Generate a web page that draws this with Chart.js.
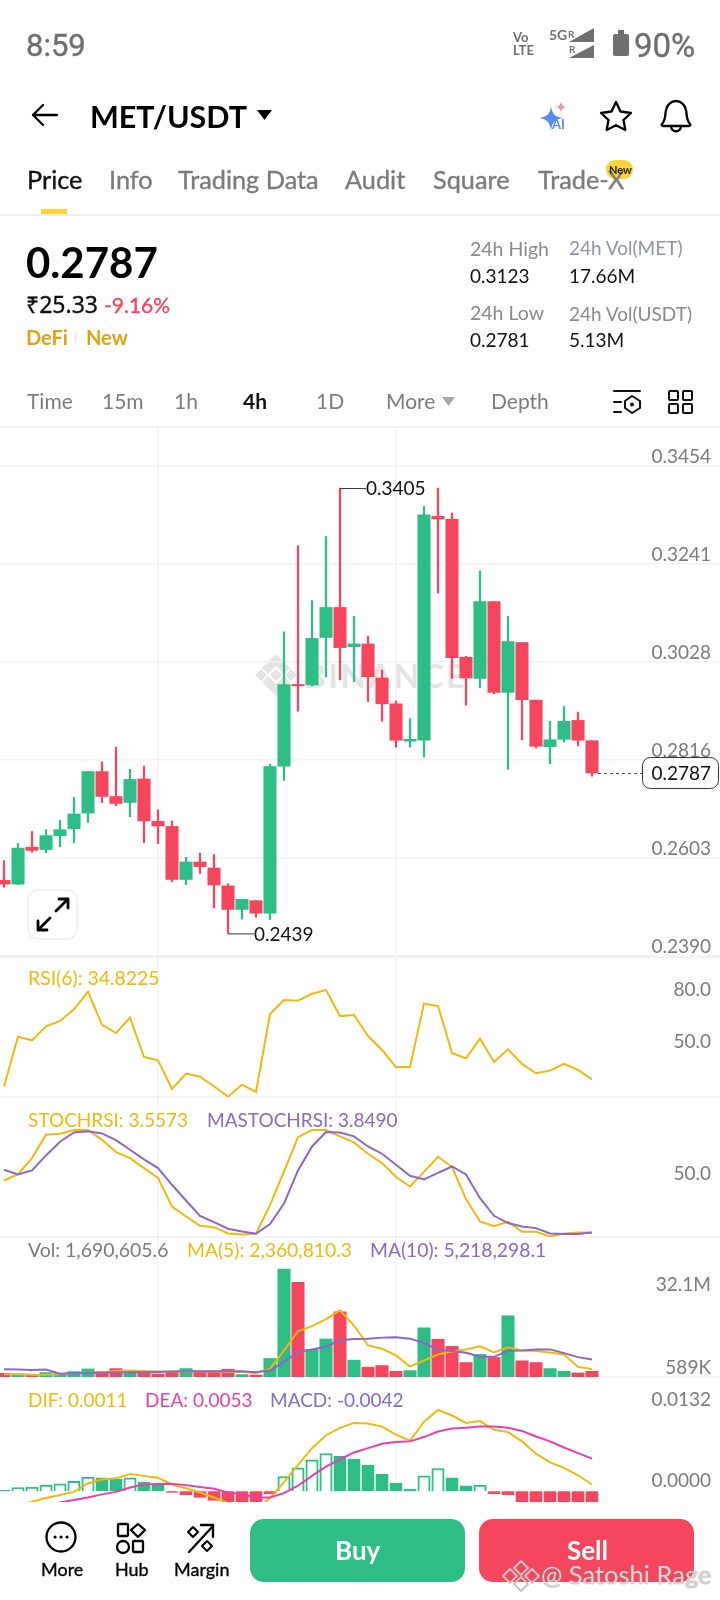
<!DOCTYPE html>
<html>
<head>
<meta charset="utf-8">
<title>MET/USDT</title>
<script src="https://cdn.jsdelivr.net/npm/chart.js@4/dist/chart.umd.min.js"></script>
<style>
html,body{margin:0;padding:0;background:#fff;}
#page{position:relative;width:720px;height:1600px;overflow:hidden;background:#fff;font-family:Lato,sans-serif;}
#page canvas{position:absolute;left:0;}
.t{position:absolute;white-space:nowrap;transform:translateY(-50%);line-height:1;}
.rule{position:absolute;left:0;width:720px;height:2px;background:#f3f3f3;}
svg{position:absolute;left:0;top:0;}
</style>
</head>
<body>
<div id="page"></div>
<script>
// one entry per 4h candle
const candleOpen=[.2554,.2546,.2626,.2621,.2651,.2666,.2700,.2790,.2736,.2723,.2774,.2682,.2671,.2556,.2594,.2581,.2542,.2491,.2510,.2483,.2802,.2979,.2978,.3081,.3146,.3061,.3067,.2993,.2937,.2856,.2858,.3344,.3337,.3038,.2992,.3159,.2962,.3070,.2945,.2844,.2860,.2901,.2857];
const candleClose=[.2546,.2624,.2619,.2651,.2664,.2698,.2790,.2736,.2721,.2773,.2683,.2672,.2556,.2594,.2584,.2544,.2491,.2513,.2483,.2801,.2979,.2976,.3079,.3146,.3059,.3067,.2996,.2937,.2858,.2860,.3347,.3338,.3037,.2993,.3159,.2962,.3072,.2946,.2845,.2859,.2899,.2858,.2787];
const candleHigh=[.2597,.2634,.2660,.2664,.2684,.2734,.2791,.2811,.2843,.2795,.2802,.2707,.2683,.2604,.2613,.2610,.2547,.2513,.2510,.2806,.3093,.3280,.3161,.3300,.3405,.3127,.3084,.3010,.2943,.2905,.3365,.3405,.3351,.3040,.3225,.3159,.3127,.3070,.2945,.2899,.2931,.2919,.2857];
const candleLow=[.2539,.2545,.2615,.2614,.2627,.2636,.2680,.2723,.2716,.2692,.2636,.2634,.2551,.2545,.2569,.2494,.2439,.2470,.2474,.2469,.2771,.2921,.2976,.2995,.2989,.2985,.2942,.2899,.2843,.2843,.2822,.3177,.2992,.2934,.2972,.2959,.2795,.2859,.2841,.2807,.2854,.2846,.2780];
const rsiValues=[30.6,59.4,57.3,65.4,68.5,75.2,85.4,66.2,61.5,70.4,47.7,45.8,29.2,38.1,36.3,30.8,24.8,31.7,27.5,72.5,80.6,80.2,84.2,86.3,71.3,71.9,59.8,51.7,41.9,41.9,78.5,77.1,50,46.9,58.3,44.8,52.1,43.7,38.3,39.8,43.8,40.2,34.8];
const stochValues=[52.3,58.3,73.2,95,96,99.4,99.4,90.3,78.8,73.2,63.9,54.8,28,18.7,10,8.7,2.8,1.9,2.5,29.3,60.7,92.8,99.4,99.4,93.5,87.9,77.3,68.5,55.5,46.7,60.4,74.5,65.1,34.9,14,9.7,13.7,4.4,4.4,0,2.8,3.7,3.6];
const maStochValues=[62.3,57.9,61.7,75.7,88.5,97.2,98.4,96.3,90,81,72,63.9,48.3,33.6,19.3,13.4,7.2,4.7,2.5,11.5,30.8,61.7,84.1,97.5,97.2,93.5,84.1,77.3,67,56.7,53.3,59.5,65.4,57.9,35.8,19.3,12.5,9.3,7.8,2.8,2.2,2.2,3.8];
// volume in millions
const volValues=[1.1,.9,.7,1.3,1,1.6,2.4,1.6,2.5,1.6,1.6,.9,1.6,2.5,1.6,1.6,2.3,.7,.589,5.5,32.1,28.1,8.2,11.3,19.4,5,2.9,3.4,1.7,1.9,14.6,11.2,9.1,4.3,6.7,5.8,18.2,4.8,4.3,2.5,1.7,1.2,1.69];
const volMa5=[.8,.8,.7,.7,.8,1.2,1.3,1.4,1.8,1.9,1.8,1.6,1.6,1.6,1.6,1.6,1.5,1.5,1.2,2.4,7.9,13.6,15.1,17.2,19.8,15.3,9.4,8.4,6.4,3.1,4.9,6.7,7.6,8.2,9.1,7.3,8.8,7.9,7.7,7.3,6.7,3,2.36];
const volMa10=[2.3,2.2,2.1,2.2,1,1.2,1.2,1.3,1.4,1.4,1.4,1.5,1.6,1.7,1.7,1.7,1.7,1.7,1.4,1.9,4.5,7.4,8.2,9,10.9,11.3,11.4,11.7,11.8,11.4,10.1,8.1,7.7,7.2,6,6,7.8,7.9,8.2,8.2,7.1,5.9,5.22];
const macdDif=[-.0030,-.0024,-.0017,-.0011,-.0006,-.0001,.0013,.0019,.0021,.0028,.0025,.0022,.0011,.0005,-.0002,-.0010,-.0019,-.0028,-.0030,-.0011,.0015,.0043,.0070,.0091,.0103,.0111,.0110,.0105,.0092,.0082,.0113,.0132,.0123,.0111,.0114,.0100,.0096,.0081,.0061,.0047,.0038,.0026,.0011];
const macdDea=[-.0036,-.0031,-.0028,-.0023,-.0018,-.0014,-.0010,-.0005,-.0001,.0006,.0011,.0012,.0012,.0010,.0007,.0004,-.0002,-.0005,-.0010,-.0010,-.0003,.0009,.0025,.0040,.0052,.0063,.0070,.0077,.0080,.0081,.0088,.0097,.0102,.0103,.0105,.0105,.0103,.0098,.0089,.0081,.0071,.0062,.0053];
const macdHist=[.0002,.0006,.0007,.0010,.0012,.0016,.0023,.0022,.0020,.0022,.0015,.0010,-.0002,-.0006,-.0010,-.0015,-.0019,-.0022,-.0021,-.0004,.0024,.0038,.0051,.0061,.0057,.0052,.0042,.0028,.0013,.0003,.0025,.0037,.0022,.0009,.0010,-.0004,-.0006,-.0018,-.0028,-.0036,-.0039,-.0041,-.0042];
const priceTicks=[.3454,.3241,.3028,.2816,.2603,.2390];
const rsiTicks=[80,50];
const stochTicks=[50];
const volTopTick=[32.1];
const volBottomTick=[.589];
const macdTicks=[.0132,0];
const gridCandles=[11,28];

const GREEN='#2EBD85', RED='#F6465D', YELLOW='#F0B90B', PURPLE='#8B68C6', PINK='#E93FB0', GRAY='#7b7b7b';
const page=document.getElementById('page');
const isUp=i=>candleClose[i]>=candleOpen[i];
const candleColor=i=>isUp(i)?GREEN:RED;
const xy=arr=>arr.map((v,i)=>({x:i,y:v}));

function text(str,left,cy,size,color,weight,extra){
    const el=document.createElement('div');
    el.className='t';
    el.textContent=str;
    // Lato has no medium cut here, thicken it a little
    const medium=weight===500?'-webkit-text-stroke:.35px '+color+';':'';
    el.style.cssText=`left:${left}px;top:${cy}px;font-size:${size}px;color:${color};font-weight:${weight===700?700:400};${medium}${extra||''}`;
    page.appendChild(el);
}
function rule(y,color,h){
    const el=document.createElement('div');
    el.className='rule';
    el.style.top=y+'px';
    if(color)el.style.background=color;
    if(h)el.style.height=h+'px';
    page.appendChild(el);
}

function yTickAxis(ticks,min,max,offset,fmt,showGrid){
    return {
        position:'right',min:min,max:max,
        border:{display:false},
        grid:{display:!!showGrid,color:'#f3f3f3',lineWidth:1.5,drawTicks:false},
        afterBuildTicks:s=>{s.ticks=ticks.map(v=>({value:v}));},
        // labels float over the plot, the axis must not take any room
        afterFit:s=>{s.width=0;s.paddingTop=0;s.paddingBottom=0;s.paddingLeft=0;s.paddingRight=0;},
        ticks:{mirror:true,padding:-9,labelOffset:offset,color:GRAY,font:{family:'Lato',size:19},callback:fmt}
    };
}
// 14px per candle, first candle centre at x=4, canvas is the full 720 wide
const xAxis={
    type:'linear',min:-4/14,max:716/14,offset:false,
    border:{display:false},
    grid:{color:'#f3f3f3',lineWidth:1.5,drawTicks:false,offset:false},
    afterBuildTicks:s=>{s.ticks=gridCandles.map(v=>({value:v}));},
    afterFit:s=>{s.height=0;s.paddingLeft=0;s.paddingRight=0;},
    ticks:{display:false}
};

function panel(top,height,datasets,scales,plugins){
    const c=document.createElement('canvas');
    c.width=720;c.height=height;
    c.style.top=top+'px';
    page.appendChild(c);
    return new Chart(c,{
        type:'bar',
        data:{datasets:datasets},
        options:{
            responsive:false,animation:false,
            layout:{padding:0},
            plugins:{legend:{display:false},tooltip:{enabled:false}},
            scales:Object.assign({x:xAxis},scales)
        },
        plugins:plugins||[]
    });
}
function line(values,color,order){
    return {type:'line',data:xy(values),borderColor:color,borderWidth:2,pointRadius:0,tension:0,order:order||0};
}

// high/low callouts and the last price box
const priceMarks={
    id:'priceMarks',
    afterDatasetsDraw(chart){
        const c=chart.ctx,xs=chart.scales.x,ys=chart.scales.y;
        const hi=Math.max(...candleHigh),lo=Math.min(...candleLow);
        const callout=(v,i)=>{
            const x=xs.getPixelForValue(i),y=ys.getPixelForValue(v);
            c.strokeStyle='#333';c.lineWidth=1;
            c.beginPath();c.moveTo(x,y+.5);c.lineTo(x+26,y+.5);c.stroke();
            c.fillStyle='#111';c.font='19px Lato';c.textAlign='left';c.textBaseline='middle';
            c.fillText(v.toFixed(4),x+26,y+1);
        };
        callout(hi,candleHigh.indexOf(hi));
        callout(lo,candleLow.indexOf(lo));
        const last=candleClose[candleClose.length-1];
        const lx=xs.getPixelForValue(candleClose.length-1)+6,ly=ys.getPixelForValue(last);
        c.setLineDash([3,3]);c.strokeStyle='#444';
        c.beginPath();c.moveTo(lx,ly+.5);c.lineTo(642,ly+.5);c.stroke();
        c.setLineDash([]);
        c.fillStyle='#fff';c.strokeStyle='#333';c.lineWidth=1;
        c.beginPath();c.roundRect(642.5,ly-15.5,76,31,8);c.fill();c.stroke();
        c.fillStyle='#111';c.textAlign='right';
        c.fillText(last.toFixed(4),711,ly+1);
    }
};

function buildWatermark(){
    const el=document.createElement('div');
    el.className='t';
    el.textContent='BINANCE';
    el.style.cssText='left:304px;top:675px;font-size:33px;font-weight:700;color:#e4e4e4;letter-spacing:2.5px;';
    page.appendChild(el);
}

function buildHeader(){
    const s='#6f6f6f';
    text('8:59',26,45,31,s,500,"font-family:Roboto;");
    text('90%',634,45,33,s,500,"font-family:Roboto;");
    text('Vo',513,37,13,s,700);
    text('LTE',513,50,13,s,700);
    text('5G',549,35,14,s,700);
    text('R',568,34,10,s,700);
    text('R',569,49,10,s,700);
    text('MET/USDT',90,116,30.500,'#000',700);
    text('AI',552,124,13,'#5b8cf0',700);
    const tabs=[['Price',27,'#111'],['Info',109,GRAY],['Trading Data',178,GRAY],['Audit',345,GRAY],['Square',433,GRAY],['Trade-X',538,GRAY]];
    tabs.forEach(o=>text(o[0],o[1],180,25.300,o[2],500));
    text('New',609,169,11,'#222',700);

    text('0.2787',26,262,42,'#000',700);
    text('₹25.33',26,304,23,'#111',500,"font-family:'Noto Sans';");
    text('-9.16%',104,304,21,RED,500);
    text('DeFi',26,337,20,'#E0A30F',700);
    text('New',86,337,20,'#E0A30F',700);
    text('24h High',470,249,19.500,'#8a8a8a');
    text('0.3123',470,275,19,'#111');
    text('24h Low',470,313,19.500,'#8a8a8a');
    text('0.2781',470,339,19,'#111');
    text('24h Vol(MET)',569,247,19,'#8b95a5');
    text('17.66M',569,275,19,'#111');
    text('24h Vol(USDT)',569,313,19,'#8a8a8a');
    text('5.13M',569,339,19,'#111');

    const frames=[['Time',27,GRAY],['15m',102,GRAY],['1h',174,GRAY],['4h',243,'#111'],['1D',316,GRAY],['More',386,GRAY],['Depth',491,GRAY]];
    frames.forEach(o=>text(o[0],o[1],400,21,o[2],o[0]==='4h'?700:400));
}

function buildLegends(){
    text('RSI(6): 34.8225',28,978,19.400,YELLOW);
    text('STOCHRSI: 3.5573',28,1119,19,YELLOW);
    text('MASTOCHRSI: 3.8490',207,1119,19,PURPLE);
    text('Vol: 1,690,605.6',28,1250,19.400,GRAY);
    text('MA(5): 2,360,810.3',187,1250,19.300,YELLOW);
    text('MA(10): 5,218,298.1',370,1250,19.300,PURPLE);
    text('DIF: 0.0011',28,1399,19,YELLOW);
    text('DEA: 0.0053',145,1399,19,PINK);
    text('MACD: -0.0042',270,1399,19,PURPLE);
}

function buildFooter(){
    text('More',41,1569,18,'#000',500);
    text('Hub',115,1569,18,'#000',500);
    text('Margin',174,1569,18,'#000',500);
    text('Buy',335,1550,26,'#fff',700);
    text('Sell',567,1550,26,'#fff',700);
    text('@ Satoshi Rage',541,1575,25.500,'#d4d4d4',400,'text-shadow:0 0 1.5px #8a8a8a;');
}

function buildIcons(){
    const svg=`<svg width="720" height="1600" viewBox="0 0 720 1600" xmlns="http://www.w3.org/2000/svg" fill="none" stroke-linecap="round" stroke-linejoin="round">
    <rect x="613" y="34" width="16" height="22" rx="2" fill="#6f6f6f"/><rect x="618" y="30" width="6" height="4" fill="#6f6f6f"/>
    <path d="M569 42L594 28V42Z M569 58L594 45V58Z" fill="#6f6f6f"/>
    <path d="M57 115H33M43 105L33 115L43 125" stroke="#000" stroke-width="2.300"/>
    <path d="M257 110H272L264.5 120Z" fill="#000"/>
    <path d="M551 106C552 114 555 117 563 118C555 119 552 122 551 131C550 122 547 119 539 118C547 117 550 114 551 106Z" fill="#5b8cf0"/>
    <path d="M561 101C561.5 105 563 106.500 567 107C563 107.500 561.500 109 561 113C560.500 109 559 107.500 555 107C559 106.500 560.500 105 561 101Z" fill="#e49ab8"/>
    <path d="M616 102L620.500 111.500L631 113L623.500 120L625.300 130L616 125.200L606.700 130L608.500 120L601 113L611.500 111.500Z" stroke="#000" stroke-width="2.300"/>
    <path d="M662 124C666 120 665 114 666 110C667 105 671 101 676 101C681 101 685 105 686 110C687 114 686 120 690 124C691 125.500 690 126 688 126H664C662 126 661 125.500 662 124Z M671 126C671 133 681 133 681 126" stroke="#000" stroke-width="2.300"/>
    <rect x="606" y="160" width="27" height="19" rx="9" fill="#FCD535"/>
    <rect x="41" y="209" width="26" height="5" fill="#FCD535"/>
    <rect x="75" y="333" width="1.500" height="10" fill="#e5e5e5"/>
    <path d="M442 397H455L448.500 406Z" fill="#aaa"/>
    <path d="M614 391H640M614 402H621M614 412H621" stroke="#111" stroke-width="2"/>
    <path d="M632 396L640 401V408L632 413L625 408V401Z" stroke="#111" stroke-width="2"/><circle cx="632" cy="404.500" r="2" fill="#111"/>
    <rect x="669" y="391" width="9" height="9" rx="1" stroke="#111" stroke-width="2"/><rect x="683" y="391" width="9" height="9" rx="1" stroke="#111" stroke-width="2"/>
    <rect x="669" y="404" width="9" height="9" rx="1" stroke="#111" stroke-width="2"/><rect x="683" y="404" width="9" height="9" rx="1" stroke="#111" stroke-width="2"/>
    <rect x="28" y="890" width="49" height="49" rx="10" stroke="#eeeeee" stroke-width="1.500" fill="#fff"/>
    <path d="M56 911L68 899M59 899H68V908M50 918L38 930M38 921V930H47" stroke="#000" stroke-width="2.800"/>
    <circle cx="61" cy="1537" r="14.500" stroke="#000" stroke-width="2.300"/><path d="M55 1537H55.100M61 1537H61.100M67 1537H67.100" stroke="#000" stroke-width="3"/>
    <rect x="118" y="1524" width="10" height="12" rx="1" stroke="#000" stroke-width="2.300"/><path d="M138 1524L145 1530L138 1537L131 1530Z" stroke="#000" stroke-width="2.300"/>
    <circle cx="123" cy="1547" r="6" stroke="#000" stroke-width="2.300"/><rect x="133" y="1541" width="10" height="11" rx="1" stroke="#000" stroke-width="2.300"/>
    <path d="M189 1552L213 1526M201 1525H213V1537" stroke="#000" stroke-width="2.300"/>
    <path d="M193 1527L198 1532L193 1537L188 1532Z M207 1541L212 1546L207 1551L202 1546Z" stroke="#000" stroke-width="2"/>
    <rect x="250" y="1519" width="215" height="63" rx="14" fill="${GREEN}"/>
    <rect x="479" y="1519" width="215" height="63" rx="14" fill="${RED}"/>
    <path d="M521 1561L528 1568L521 1575L514 1568Z M521 1577L528 1584L521 1591L514 1584Z M510 1569L517 1576L510 1583L503 1576Z M532 1569L539 1576L532 1583L525 1576Z" stroke="#c4c4c4" stroke-width="2"/>
    </svg>`;
    const logo=`<svg width="720" height="1600" viewBox="0 0 720 1600" xmlns="http://www.w3.org/2000/svg">
    <path d="M276 654L290 668L284 674L276 666L268 674L262 668Z M255 675L261 669L267 675L261 681Z M285 675L291 669L297 675L291 681Z M276 669L282 675L276 681L270 675Z M276 696L262 682L268 676L276 684L284 676L290 682Z" fill="#e4e4e4"/>
    </svg>`;
    page.insertAdjacentHTML('afterbegin',logo);
    buildWatermark();
    return svg;
}

const iconSvg=buildIcons();

// dividers sit under the charts
rule(214,'#eeeeee');rule(426,'#f3f3f3');rule(956);rule(1096);rule(1236);rule(1376);

const candleWicks={data:candleHigh.map((h,i)=>({x:i,y:[candleLow[i],h]})),backgroundColor:candleHigh.map((h,i)=>candleColor(i)),barThickness:1.6,grouped:false,order:2};
const candleBodies={data:candleOpen.map((o,i)=>({x:i,y:[o,candleClose[i]]})),backgroundColor:candleOpen.map((o,i)=>candleColor(i)),barThickness:12.4,grouped:false,order:1};

panel(428,528,[candleBodies,candleWicks],{
    y:yTickAxis(priceTicks,.2390,.35353,-9,v=>v.toFixed(4),true)
},[priceMarks]);

panel(957,140,[line(rsiValues,YELLOW)],{
    y:yTickAxis(rsiTicks,24.6,105.4,-11,v=>v.toFixed(1))
});

panel(1097,140,[line(stochValues,YELLOW,1),line(maStochValues,PURPLE,0)],{
    y:yTickAxis(stochTicks,-.5,130.3,-9.5,v=>v.toFixed(1))
});

panel(1237,140,[
    line(volMa5,YELLOW,1),line(volMa10,PURPLE,0),
    {data:xy(volValues),backgroundColor:volValues.map((v,i)=>candleColor(i)),barThickness:12.4,grouped:false,order:2}
],{
    y:yTickAxis(volTopTick,0,41.6,15.5,v=>v.toFixed(1)+'M'),
    y2:yTickAxis(volBottomTick,0,41.6,-7.5,v=>Math.round(v*1000)+'K')
});

panel(1377,125,[
    line(macdDif,YELLOW,1),line(macdDea,PINK,0),
    {
        data:xy(macdHist),barThickness:12.4,grouped:false,order:2,borderWidth:2,
        borderColor:macdHist.map(v=>v>=0?GREEN:RED),
        // rising green bars are hollow
        backgroundColor:macdHist.map((v,i)=>v>=0?(i>0&&v>macdHist[i-1]?'#fff':GREEN):RED)
    }
],{
    y:yTickAxis(macdTicks,-.00174,.01855,-10.5,v=>v.toFixed(4))
});

page.insertAdjacentHTML('beforeend',iconSvg);
buildHeader();
buildLegends();
buildFooter();
</script>
</body>
</html>
